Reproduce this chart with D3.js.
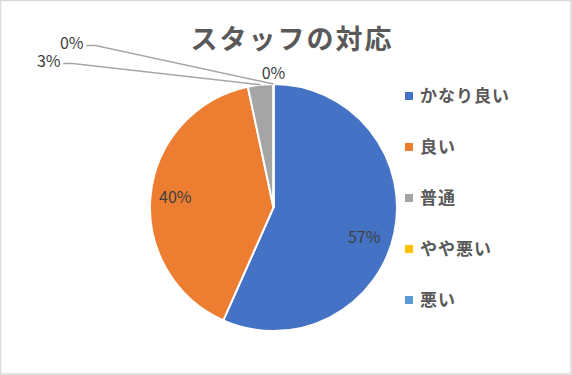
<!DOCTYPE html>
<html>
<head>
<meta charset="utf-8">
<script src="https://cdn.jsdelivr.net/npm/d3@7"></script>
<style>
  body { margin: 0; background: #fff; }
  text { font-family: "Noto Sans CJK JP", "Noto Sans", sans-serif; }
</style>
</head>
<body>
<div id="chart"></div>
<script>
// Data
const categories = ['かなり良い', '良い', '普通', 'やや悪い', '悪い'];
const counts = [17, 12, 1, 0, 0];
const colors = ['#4472c4', '#ed7d31', '#a5a5a5', '#ffc000', '#5b9bd5'];
const title = 'スタッフの対応';

const width = 572;
const height = 375;

const svg = d3.select('#chart')
  .append('svg')
    .attr('width', width)
    .attr('height', height);

// Chart border
svg.append('rect')
  .attr('x', 0.5)
  .attr('y', 0.5)
  .attr('width', width - 1.5)
  .attr('height', height - 1.5)
  .attr('fill', '#fff')
  .attr('stroke', '#d9d9d9')
  .attr('stroke-width', 1.5);

// Title
svg.append('text')
  .attr('x', 292)
  .attr('y', 49)
  .attr('text-anchor', 'middle')
  .attr('font-size', 27)
  .attr('font-weight', 'bold')
  .attr('letter-spacing', 2)
  .attr('fill', '#595959')
  .text(title);

// Pie
const cx = 273.5;
const cy = 207.5;
const radius = 123.5;

const total = d3.sum(counts);
const pie = d3.pie().sort(null).value(d => d);
const arcs = pie(counts);
const arc = d3.arc().innerRadius(0).outerRadius(radius);
const labelArc = d3.arc().innerRadius(radius * 0.8).outerRadius(radius * 0.8);

const g = svg.append('g')
  .attr('transform', `translate(${cx},${cy})`);

g.selectAll('path')
  .data(arcs)
  .join('path')
    .attr('d', arc)
    .attr('fill', (d, i) => colors[i])
    .attr('stroke', '#fff')
    .attr('stroke-width', 2);

// Labels: big slices inside, small slices with leader lines
const pct = d => d3.format('.0%')(d.value / total);
const outside = [
  { dx: -6, dy: 9 },  // 57% sits a bit lower in the reference
  null,
  { x: -213, y: -146, anchor: 'end' },   // 3%
  { x: -190, y: -164, anchor: 'end' },   // 0% やや悪い
  { x: 0, y: -134, anchor: 'middle', noLine: true } // 0% 悪い
];

arcs.forEach((d, i) => {
  const o = outside[i];
  if (!o || o.dx !== undefined) {
    const [x, y] = labelArc.centroid(d);
    g.append('text')
      .attr('x', x + (o ? o.dx : 0))
      .attr('y', y + (o ? o.dy : 0))
      .attr('text-anchor', 'middle')
      .attr('dy', '0.35em')
      .attr('font-size', 16)
      .attr('fill', '#404040')
      .text(pct(d));
    return;
  }
  g.append('text')
    .attr('x', o.x)
    .attr('y', o.y)
    .attr('text-anchor', o.anchor)
    .attr('dy', '0.35em')
    .attr('font-size', 16)
    .attr('fill', '#404040')
    .text(pct(d));
  if (!o.noLine) {
    const mid = (d.startAngle + d.endAngle) / 2;
    const ex = radius * Math.sin(mid);
    const ey = -radius * Math.cos(mid);
    g.append('polyline')
      .attr('points', [[o.x + 3, o.y + 2], [o.x + 12, o.y + 2], [ex, ey]].map(p => p.join(',')).join(' '))
      .attr('fill', 'none')
      .attr('stroke', '#a6a6a6')
      .attr('stroke-width', 1.5);
  }
});

// Legend
const legend = svg.append('g')
  .selectAll('.legend-item')
  .data(categories)
  .join('g')
    .attr('class', 'legend-item')
    .attr('transform', (d, i) => `translate(405, ${96 + i * 51})`);

legend.append('rect')
  .attr('x', 0)
  .attr('y', -4)
  .attr('width', 8)
  .attr('height', 8)
  .attr('fill', (d, i) => colors[i]);

legend.append('text')
  .attr('x', 15)
  .attr('dy', '0.36em')
  .attr('font-size', 17)
  .attr('font-weight', 'bold')
  .attr('letter-spacing', 1)
  .attr('fill', '#595959')
  .text(d => d);
</script>
</body>
</html>
